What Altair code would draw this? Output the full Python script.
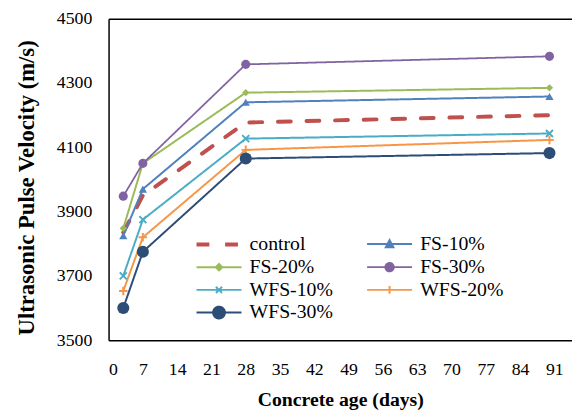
import altair as alt
import pandas as pd

# ---- data ----
days = [3, 7, 28, 90]
series_names = ["control", "FS-10%", "FS-20%", "FS-30%", "WFS-10%", "WFS-20%", "WFS-30%"]
control = [3835, 3950, 4177, 4200]
fs10 = [3825, 3970, 4240, 4258]
fs20 = [3848, 4050, 4270, 4285]
fs30 = [3948, 4050, 4358, 4383]
wfs10 = [3700, 3875, 4127, 4143]
wfs20 = [3653, 3820, 4092, 4123]
wfs30 = [3600, 3775, 4065, 4082]
x_ticks = [0, 7, 14, 21, 28, 35, 42, 49, 56, 63, 70, 77, 84, 91]
y_ticks = [3500, 3700, 3900, 4100, 4300, 4500]

# ---- styles ----
colors = ["#C0504D", "#4F81BD", "#9BBB59", "#8064A2", "#4BACC6", "#F79646", "#2C4D75"]
dashes = [[13, 16], [1, 0], [1, 0], [1, 0], [1, 0], [1, 0], [1, 0]]
widths = [4, 2, 2, 1.8, 2, 2, 2]
# marker per series in the plot: (shape, size, filled)
markers = {
    "FS-10%": ("triangle-up", 70, True),
    "FS-20%": ("diamond", 55, True),
    "FS-30%": ("circle", 85, True),
    "WFS-10%": ("M-1,-1L1,1M-1,1L1,-1", 50, False),
    "WFS-20%": ("M-1,0L1,0M0,-1L0,1", 75, False),
    "WFS-30%": ("circle", 150, True),
}

line_seg = "M-1.9,0L1.9,0"
def circ(r):
    return f"M-{r},0A{r},{r} 0 1 1 {r},0A{r},{r} 0 1 1 -{r},0Z"
legend_paths = [
    line_seg,
    line_seg + "M-0.32,0.27L0,-0.33L0.32,0.27Z",
    line_seg + "M-0.27,0L0,-0.27L0.27,0L0,0.27Z",
    line_seg + circ(0.36),
    line_seg + "M-0.26,-0.26L0.26,0.26M-0.26,0.26L0.26,-0.26",
    line_seg + "M-0.32,0L0.32,0M0,-0.32L0,0.32",
    line_seg + circ(0.5),
]

rows = []
for name, vals in zip(series_names, [control, fs10, fs20, fs30, wfs10, wfs20, wfs30]):
    for d, v in zip(days, vals):
        rows.append({"series": name, "day": d, "upv": v})
df = pd.DataFrame(rows)

FONT = "Liberation Serif"
color_scale = alt.Scale(domain=series_names, range=colors)
dash_scale = alt.Scale(domain=series_names, range=dashes)
width_scale = alt.Scale(type="ordinal", domain=series_names, range=widths)

x_enc = alt.X("day:Q", scale=alt.Scale(domain=[0, 94.6], nice=False, zero=False),
              axis=alt.Axis(values=x_ticks, title="Concrete age (days)", labelPadding=21,
                            titlePadding=11, titleFontSize=20))
y_enc = alt.Y("upv:Q", scale=alt.Scale(domain=[3500, 4500], nice=False, zero=False),
              axis=alt.Axis(values=y_ticks, format="d", title="Ultrasonic Pulse Velocity (m/s)",
                            labelPadding=17, titlePadding=18, titleFontSize=23, titleY=171))

lines = alt.Chart(df).mark_line(strokeCap="round").encode(
    x=x_enc, y=y_enc,
    color=alt.Color("series:N", scale=color_scale, legend=None),
    strokeDash=alt.StrokeDash("series:N", scale=dash_scale, legend=None),
    strokeWidth=alt.StrokeWidth("series:N", scale=width_scale, legend=None),
    detail="series:N",
)

point_layers = []
for s, (shp, sz, filled) in markers.items():
    point_layers.append(
        alt.Chart(df).transform_filter(alt.datum.series == s).mark_point(
            shape=shp, size=sz, filled=filled, opacity=1, strokeWidth=2
        ).encode(
            x=alt.X("day:Q", axis=None),
            y=alt.Y("upv:Q", axis=None),
            color=alt.Color("series:N", scale=color_scale, legend=None),
        )
    )

leg_common = dict(title=None, orient="none", legendX=98, legendY=215,
                  columns=2, direction="horizontal", columnPadding=30, rowPadding=-1,
                  symbolSize=576, labelOffset=17, padding=0,
                  labelFont=FONT, labelFontSize=20, labelColor="#000", labelLimit=300)

legend_layer = alt.Chart(df).transform_filter("false").mark_point(
    filled=True, opacity=1
).encode(
    x=alt.X("day:Q", axis=alt.Axis(orient="top", labels=False, ticks=False, title=None)),
    y=alt.Y("upv:Q", axis=None),
    color=alt.Color("series:N", scale=color_scale, legend=alt.Legend(**leg_common)),
    stroke=alt.Stroke("series:N", scale=alt.Scale(domain=series_names, range=colors),
                      legend=alt.Legend(**leg_common)),
    shape=alt.Shape("series:N", scale=alt.Scale(domain=series_names, range=legend_paths),
                    legend=alt.Legend(**leg_common)),
    strokeDash=alt.StrokeDash("series:N", scale=dash_scale, legend=alt.Legend(**leg_common)),
    strokeWidth=alt.StrokeWidth("series:N", scale=width_scale, legend=alt.Legend(**leg_common)),
)

chart = alt.layer(lines, *point_layers, legend_layer).resolve_axis(
    x="independent", y="independent"
).resolve_legend(
    color="independent", stroke="independent", shape="independent",
    strokeDash="independent", strokeWidth="independent",
).properties(
    width=470, height=326,
    autosize=alt.AutoSizeParams(type="none"),
    padding={"left": 102, "top": 8, "right": 0, "bottom": 72},
).configure(font=FONT).configure_view(stroke=None).configure_axis(
    labelFont=FONT, labelFontSize=18, labelColor="#000",
    titleFont=FONT, titleFontWeight="bold", titleColor="#000",
    domainColor="#000", domainWidth=1.5, ticks=False, tickSize=0, grid=False,
).configure_legend(
    labelFont=FONT, labelFontSize=20, labelColor="#000",
)

chart.save("out.html", embed_options={"renderer": "svg", "actions": False})
